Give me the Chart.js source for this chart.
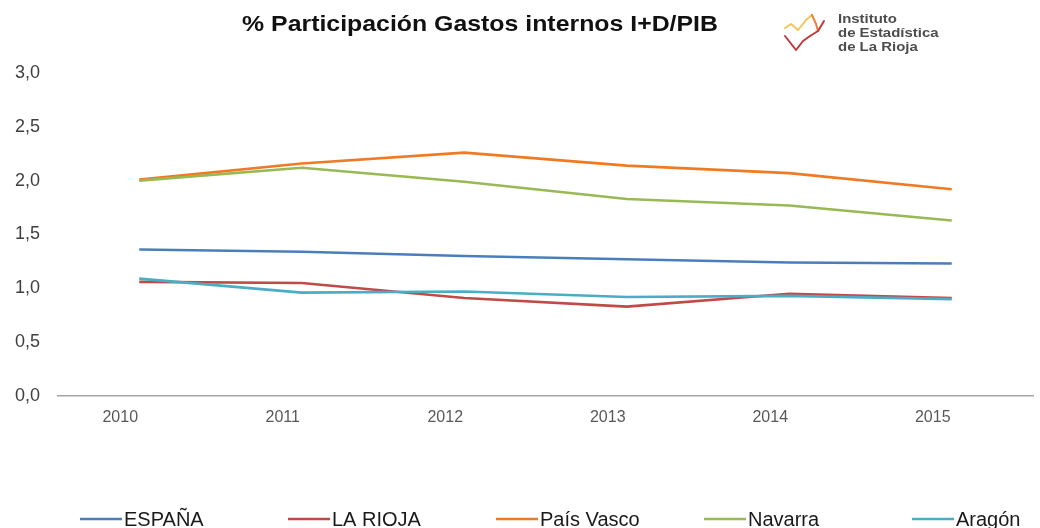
<!DOCTYPE html>
<html>
<head>
<meta charset="utf-8">
<script src="https://cdn.jsdelivr.net/npm/chart.js@4.4.0/dist/chart.umd.min.js"></script>
<style>
  html, body { margin: 0; padding: 0; background: #fff; }
  #wrap { width: 1040px; height: 528px; position: relative; }
</style>
</head>
<body>
<div id="wrap"><canvas id="lineChart" width="1040" height="528"></canvas></div>
<script>
// years on the x axis
var years = ["2010", "2011", "2012", "2013", "2014", "2015"];

// % gasto interno I+D sobre PIB
var espana    = [1.36, 1.34, 1.30, 1.27, 1.24, 1.23];
var laRioja   = [1.06, 1.05, 0.91, 0.83, 0.95, 0.91];
var paisVasco = [2.01, 2.16, 2.26, 2.14, 2.07, 1.92];
var navarra   = [2.00, 2.12, 1.99, 1.83, 1.77, 1.63];
var aragon    = [1.09, 0.96, 0.97, 0.92, 0.93, 0.90];

var seriesNames  = ["ESPAÑA", "LA RIOJA", "País Vasco", "Navarra", "Aragón"];
var seriesColors = ["#4a7ebb", "#be4b48", "#f07a23", "#98b954", "#4bacc6"];
var seriesValues = [espana, laRioja, paisVasco, navarra, aragon];

var yTicks = [0, 0.5, 1, 1.5, 2, 2.5, 3];

var FONT = "'Liberation Sans', Arial, sans-serif";

// title + logo drawn on the canvas
var headerPlugin = {
    id: 'header',
    afterDraw: function(chart) {
        var ctx = chart.ctx;
        ctx.save();
        // title, a bit wide like in the original
        ctx.font = "bold 22px " + FONT;
        ctx.fillStyle = "#111";
        ctx.textBaseline = "alphabetic";
        ctx.textAlign = "center";
        ctx.translate(480, 31);
        ctx.scale(1.13, 1);
        ctx.fillText("% Participación Gastos internos I+D/PIB", 0, 0);
        ctx.restore();

        // logo mark
        ctx.save();
        ctx.lineWidth = 2;
        ctx.lineJoin = "round";
        ctx.lineCap = "round";
        ctx.strokeStyle = "#f2c45a";
        ctx.beginPath();
        ctx.moveTo(785, 28); ctx.lineTo(791, 24); ctx.lineTo(798, 30);
        ctx.lineTo(806, 20); ctx.lineTo(812, 15);
        ctx.stroke();
        ctx.strokeStyle = "#e8833a";
        ctx.beginPath();
        ctx.moveTo(812, 15); ctx.lineTo(816, 24); ctx.lineTo(818, 31);
        ctx.stroke();
        ctx.strokeStyle = "#c0393b";
        ctx.beginPath();
        ctx.moveTo(785, 36); ctx.lineTo(796, 50); ctx.lineTo(803, 41);
        ctx.lineTo(810, 36); ctx.lineTo(818, 31); ctx.lineTo(824, 21);
        ctx.stroke();
        ctx.restore();

        // logo text
        ctx.save();
        ctx.font = "bold 13px " + FONT;
        ctx.fillStyle = "#4d4d4d";
        ctx.textAlign = "left";
        ctx.textBaseline = "middle";
        ctx.translate(838, 0);
        ctx.scale(1.15, 1);
        ctx.fillText("Instituto", 0, 19);
        ctx.fillText("de Estadística", 0, 33);
        ctx.fillText("de La Rioja", 0, 47);
        ctx.restore();
    }
};

// legend like the excel one: short line then the name, evenly spaced
var lineLegendPlugin = {
    id: 'lineLegend',
    afterDraw: function(chart) {
        var ctx = chart.ctx;
        var y = 519;
        ctx.save();
        ctx.font = "20px " + FONT;
        ctx.textBaseline = "middle";
        ctx.textAlign = "left";
        chart.data.datasets.forEach(function(ds, i) {
            var x0 = 80 + i * 208;
            ctx.strokeStyle = ds.borderColor;
            ctx.lineWidth = 2.5;
            ctx.beginPath();
            ctx.moveTo(x0, y);
            ctx.lineTo(x0 + 42, y);
            ctx.stroke();
            ctx.fillStyle = "#1a1a1a";
            ctx.fillText(ds.label, x0 + 44, y + 1);
        });
        ctx.restore();
    }
};

var datasets = seriesNames.map(function(name, i) {
    return {
        label: name,
        data: seriesValues[i],
        borderColor: seriesColors[i],
        backgroundColor: seriesColors[i],
        borderWidth: 2.6,
        pointRadius: 0,
        tension: 0,
        fill: false,
        order: seriesNames.length - i
    };
});

var canvas = document.getElementById("lineChart");

var myLineChart = new Chart(canvas, {
    type: 'line',
    data: {
        labels: years,
        datasets: datasets
    },
    options: {
        responsive: false,
        animation: false,
        layout: {
            padding: { top: 73, right: 7, bottom: 100, left: 0 }
        },
        plugins: {
            legend: { display: false },
            title: { display: false },
            tooltip: { enabled: false }
        },
        scales: {
            x: {
                offset: true,
                grid: { display: false, drawTicks: false },
                border: { display: true, color: "#a6a6a6", width: 1.5 },
                ticks: {
                    color: "#595959",
                    font: { family: FONT, size: 16 },
                    padding: 12,
                    labelOffset: -19,
                    maxRotation: 0
                },
                afterFit: function(scale) { scale.height = 32; }
            },
            y: {
                min: 0,
                max: 3,
                afterBuildTicks: function(scale) {
                    scale.ticks = yTicks.map(function(v) { return { value: v }; });
                },
                grid: { display: false, drawTicks: false },
                border: { display: false },
                ticks: {
                    color: "#404040",
                    font: { family: FONT, size: 18 },
                    padding: 18,
                    callback: function(v) { return v.toFixed(1).replace('.', ','); }
                },
                afterFit: function(scale) { scale.width = 58; }
            }
        }
    },
    plugins: [headerPlugin, lineLegendPlugin]
});
</script>
</body>
</html>
